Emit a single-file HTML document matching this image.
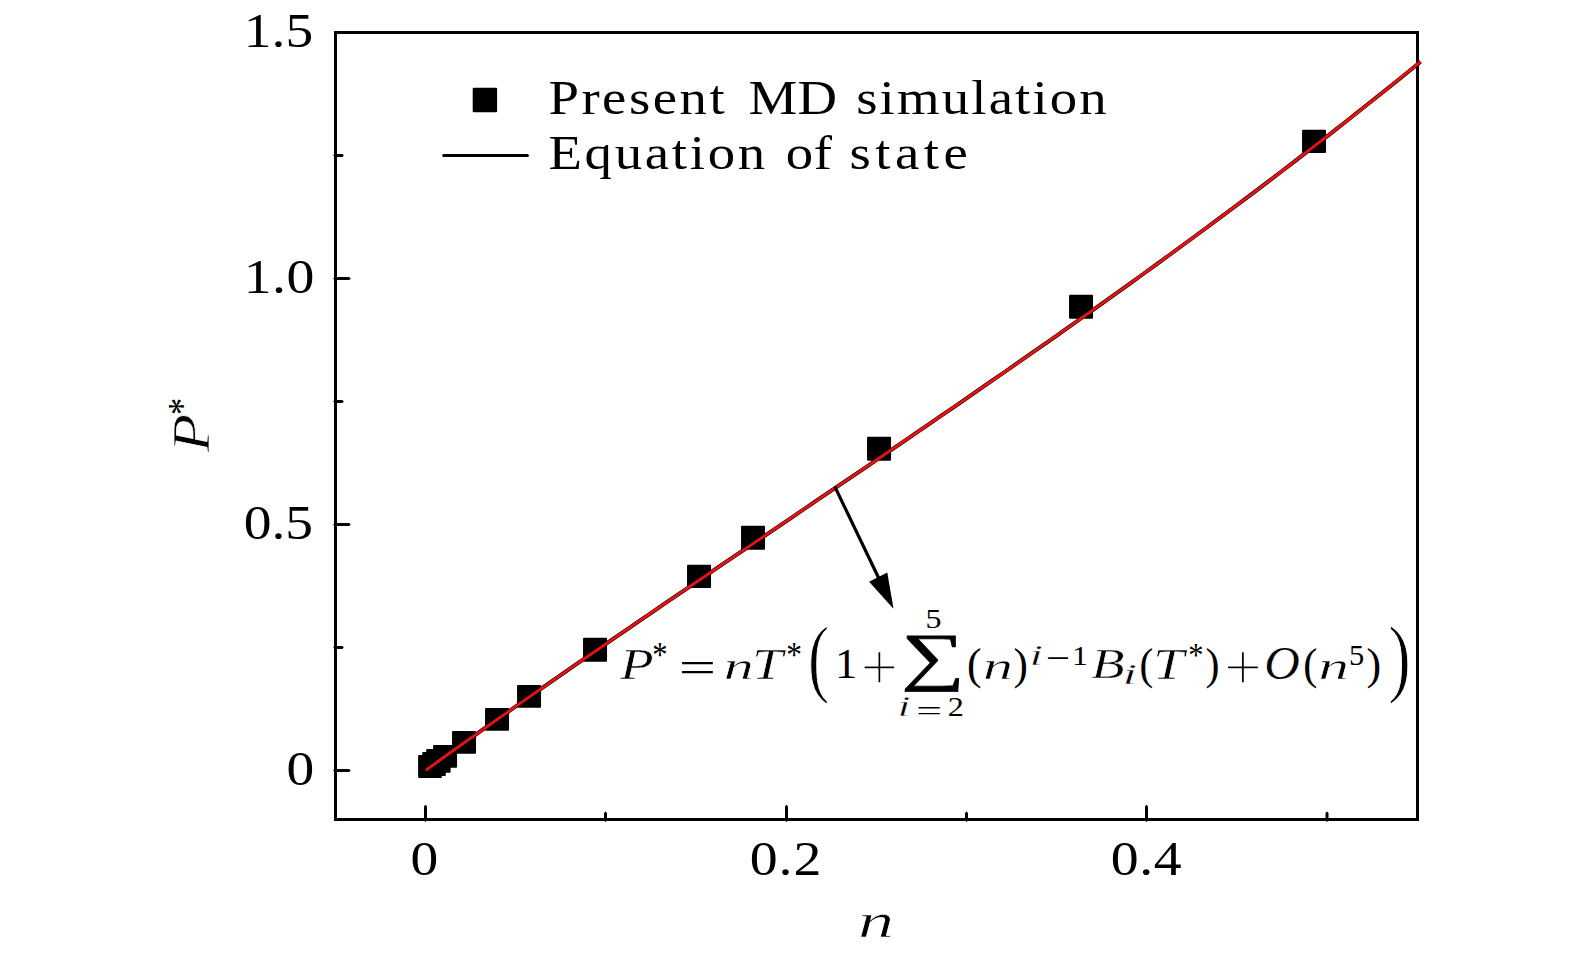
<!DOCTYPE html><html><head><meta charset="utf-8"><title>Equation of state</title>
<style>html,body{margin:0;padding:0;background:#fff}svg{display:block}text{font-family:"Liberation Serif",serif;fill:#000}</style></head><body>
<svg width="1575" height="955" viewBox="0 0 1575 955">
<rect width="1575" height="955" fill="#fff"/>
<g fill="#000">
<polygon points="424.0,806.2 425.5,804.7 427.0,806.2 427.0,820.5 425.5,822.0 424.0,820.5"/>
<polygon points="785.0,806.2 786.5,804.7 788.0,806.2 788.0,820.5 786.5,822.0 785.0,820.5"/>
<polygon points="1145.0,806.2 1146.5,804.7 1148.0,806.2 1148.0,820.5 1146.5,822.0 1145.0,820.5"/>
<polygon points="604.0,813.1 605.5,811.6 607.0,813.1 607.0,820.5 605.5,822.0 604.0,820.5"/>
<polygon points="965.0,813.1 966.5,811.6 968.0,813.1 968.0,820.5 966.5,822.0 965.0,820.5"/>
<polygon points="1325.5,813.1 1327.0,811.6 1328.5,813.1 1328.5,820.5 1327.0,822.0 1325.5,820.5"/>
<polygon points="333.1,770.50 334.6,769.00 349.2,769.00 350.7,770.50 349.2,772.00 334.6,772.00"/>
<polygon points="333.1,524.50 334.6,523.00 349.2,523.00 350.7,524.50 349.2,526.00 334.6,526.00"/>
<polygon points="333.1,278.50 334.6,277.00 349.2,277.00 350.7,278.50 349.2,280.00 334.6,280.00"/>
<polygon points="333.1,647.50 334.6,646.00 342.4,646.00 343.9,647.50 342.4,649.00 334.6,649.00"/>
<polygon points="333.1,401.50 334.6,400.00 342.4,400.00 343.9,401.50 342.4,403.00 334.6,403.00"/>
<polygon points="333.1,155.50 334.6,154.00 342.4,154.00 343.9,155.50 342.4,157.00 334.6,157.00"/>
</g>
<rect x="335.5" y="32.5" width="1082.0" height="787.0" fill="none" stroke="#000" stroke-width="3"/>
<text transform="matrix(1.1230 0 0 1 243.82 46.80)" font-size="49.4">1.5</text>
<text transform="matrix(1.1300 0 0 1 243.79 293.20)" font-size="49.4" letter-spacing="0.334">1.0</text>
<text transform="matrix(1.1253 0 0 1 243.68 539.00)" font-size="49.4">0.5</text>
<text transform="matrix(1.1224 0 0 1 286.59 785.20)" font-size="49.4">0</text>
<text transform="matrix(1.1224 0 0 1 410.59 875.20)" font-size="49.4">0</text>
<text transform="matrix(1.1300 0 0 1 749.67 875.20)" font-size="49.4" letter-spacing="0.898">0.2</text>
<text transform="matrix(1.1300 0 0 1 1110.77 875.20)" font-size="49.4" letter-spacing="0.452">0.4</text>
<text transform="matrix(0.7213 0 0 0.4839 857.98 937.15)" font-size="100" font-style="italic" stroke="#fff" stroke-width="0.9" vector-effect="non-scaling-stroke">n</text>
<g transform="translate(208.1 452.3) rotate(-90)">
<text transform="matrix(0.6262 0 0 0.5193 -0.06 0.40)" font-size="100" font-style="italic" stroke="#fff" stroke-width="0.8" vector-effect="non-scaling-stroke">P</text>
<text transform="matrix(0.3446 0 0 0.4009 37.32 -13.55)" font-size="100">*</text>
</g>
<rect x="472.7" y="87.8" width="24.4" height="24.4" rx="1.2"/>
<line x1="443.7" y1="155.6" x2="527.4" y2="155.6" stroke="#000" stroke-width="3" stroke-linecap="round"/>
<text transform="matrix(1.13 0 0 1 0 114.4)" font-size="48.5"><tspan x="485.33" letter-spacing="2.207">Present</tspan> <tspan x="662.32" letter-spacing="0.411">MD</tspan> <tspan x="757.66" letter-spacing="1.896">simulation</tspan></text>
<text transform="matrix(1.13 0 0 1 0 169.3)" font-size="48.5"><tspan x="485.33" letter-spacing="2.395">Equation</tspan> <tspan x="695.32" letter-spacing="0.561">of</tspan> <tspan x="751.82" letter-spacing="3.964">state</tspan></text>
<g fill="#000">
<rect x="1302.04" y="129.87" width="24" height="23.05" rx="1"/>
<rect x="1069.04" y="294.87" width="24" height="23.96" rx="1"/>
<rect x="867.04" y="436.87" width="24" height="23.96" rx="1"/>
<rect x="741.04" y="525.87" width="24" height="23.96" rx="1"/>
<rect x="687.04" y="564.87" width="24" height="23.05" rx="1"/>
<rect x="583.04" y="637.87" width="24" height="23.96" rx="1"/>
<rect x="517.04" y="685.00" width="24" height="22.8" rx="1"/>
<rect x="485.04" y="708.00" width="24" height="22.8" rx="1"/>
<rect x="452.04" y="731.00" width="24" height="22.85" rx="1"/>
<rect x="433.10" y="745.05" width="23.95" height="22.6" rx="1"/>
<rect x="426.20" y="749.00" width="24.4" height="23.7" rx="1"/>
<rect x="422.20" y="752.10" width="23.6" height="23.9" rx="1"/>
<rect x="418.10" y="755.10" width="23.8" height="22.8" rx="1"/>
</g>
<path d="M425.67 770.31 L438.26 761.27 L450.85 752.27 L463.45 743.30 L476.04 734.36 L488.64 725.46 L501.23 716.58 L513.83 707.74 L526.42 698.93 L539.01 690.14 L551.61 681.38 L564.20 672.64 L576.80 663.93 L589.39 655.24 L601.98 646.57 L614.58 637.91 L627.17 629.28 L639.77 620.66 L652.36 612.06 L664.95 603.47 L677.55 594.89 L690.14 586.32 L702.74 577.77 L715.33 569.22 L727.92 560.68 L740.52 552.14 L753.11 543.61 L765.71 535.08 L778.30 526.55 L790.90 518.02 L803.49 509.49 L816.08 500.96 L828.68 492.42 L841.27 483.88 L853.87 475.33 L866.46 466.77 L879.05 458.21 L891.65 449.63 L904.24 441.04 L916.84 432.44 L929.43 423.82 L942.02 415.19 L954.62 406.54 L967.21 397.87 L979.81 389.18 L992.40 380.47 L1004.99 371.73 L1017.59 362.97 L1030.18 354.19 L1042.78 345.37 L1055.37 336.53 L1067.97 327.66 L1080.56 318.76 L1093.15 309.83 L1105.75 300.86 L1118.34 291.86 L1130.94 282.82 L1143.53 273.74 L1156.12 264.62 L1168.72 255.47 L1181.31 246.27 L1193.91 237.03 L1206.50 227.74 L1219.09 218.40 L1231.69 209.02 L1244.28 199.59 L1256.88 190.12 L1269.47 180.58 L1282.06 171.00 L1294.66 161.36 L1307.25 151.67 L1319.85 141.92 L1332.44 132.11 L1345.04 122.24 L1357.63 112.31 L1370.22 102.32 L1382.82 92.27 L1395.41 82.15 L1408.01 71.96 L1420.60 61.71" fill="none" stroke="#000" stroke-width="3.9"/>
<path d="M425.67 770.31 L438.26 761.27 L450.85 752.27 L463.45 743.30 L476.04 734.36 L488.64 725.46 L501.23 716.58 L513.83 707.74 L526.42 698.93 L539.01 690.14 L551.61 681.38 L564.20 672.64 L576.80 663.93 L589.39 655.24 L601.98 646.57 L614.58 637.91 L627.17 629.28 L639.77 620.66 L652.36 612.06 L664.95 603.47 L677.55 594.89 L690.14 586.32 L702.74 577.77 L715.33 569.22 L727.92 560.68 L740.52 552.14 L753.11 543.61 L765.71 535.08 L778.30 526.55 L790.90 518.02 L803.49 509.49 L816.08 500.96 L828.68 492.42 L841.27 483.88 L853.87 475.33 L866.46 466.77 L879.05 458.21 L891.65 449.63 L904.24 441.04 L916.84 432.44 L929.43 423.82 L942.02 415.19 L954.62 406.54 L967.21 397.87 L979.81 389.18 L992.40 380.47 L1004.99 371.73 L1017.59 362.97 L1030.18 354.19 L1042.78 345.37 L1055.37 336.53 L1067.97 327.66 L1080.56 318.76 L1093.15 309.83 L1105.75 300.86 L1118.34 291.86 L1130.94 282.82 L1143.53 273.74 L1156.12 264.62 L1168.72 255.47 L1181.31 246.27 L1193.91 237.03 L1206.50 227.74 L1219.09 218.40 L1231.69 209.02 L1244.28 199.59 L1256.88 190.12 L1269.47 180.58 L1282.06 171.00 L1294.66 161.36 L1307.25 151.67 L1319.85 141.92 L1332.44 132.11 L1345.04 122.24 L1357.63 112.31 L1370.22 102.32 L1382.82 92.27 L1395.41 82.15 L1408.01 71.96 L1420.60 61.71" fill="none" stroke="#e61212" stroke-width="2.9"/>
<line x1="835.3" y1="487.6" x2="880" y2="580.8" stroke="#000" stroke-width="3.2" stroke-linecap="round"/>
<polygon points="893.5,608.7 869.1,581.7 887.3,572.6" fill="#000"/>
<g><text transform="matrix(0.5467 0 0 0.4337 620.19 678.60)" font-size="100" font-style="italic" stroke="#fff" stroke-width="0.6" vector-effect="non-scaling-stroke">P</text>
<text transform="matrix(0.3050 0 0 0.3627 652.31 667.25)" font-size="100">*</text>
<text transform="matrix(0.6619 0 0 0.4400 678.80 682.11)" font-size="100">=</text>
<text transform="matrix(0.6007 0 0 0.3884 723.76 678.60)" font-size="100" font-style="italic" stroke="#fff" stroke-width="0.6" vector-effect="non-scaling-stroke">n</text>
<text transform="matrix(0.5547 0 0 0.4337 752.07 678.60)" font-size="100" font-style="italic" stroke="#fff" stroke-width="0.6" vector-effect="non-scaling-stroke">T</text>
<text transform="matrix(0.3149 0 0 0.3627 786.26 667.25)" font-size="100">*</text>
<text transform="matrix(0.6346 0 0 0.8657 807.91 686.17)" font-size="100" stroke="#fff" stroke-width="1.0" vector-effect="non-scaling-stroke">(</text>
<text transform="matrix(0.4460 0 0 0.4128 834.88 678.30)" font-size="100">1</text>
<text transform="matrix(0.6683 0 0 0.6870 860.57 690.41)" font-size="100" stroke="#fff" stroke-width="1.6" vector-effect="non-scaling-stroke">+</text>
<text transform="matrix(0.8911 0 0 0.6442 901.25 677.73)" font-size="100" stroke="#000" stroke-width="0.9" stroke-linejoin="miter" vector-effect="non-scaling-stroke">∑</text>
<text transform="matrix(0.3202 0 0 0.2769 925.44 628.33)" font-size="100">5</text>
<text transform="matrix(0.4690 0 0 0.2990 897.59 716.40)" font-size="100" font-style="italic" stroke="#fff" stroke-width="0.6" vector-effect="non-scaling-stroke">i</text>
<text transform="matrix(0.4556 0 0 0.2800 916.13 720.30)" font-size="100">=</text>
<text transform="matrix(0.3218 0 0 0.2779 947.69 715.70)" font-size="100">2</text>
<text transform="matrix(0.4361 0 0 0.4522 966.98 678.67)" font-size="100">(</text>
<text transform="matrix(0.6007 0 0 0.3884 982.96 678.60)" font-size="100" font-style="italic" stroke="#fff" stroke-width="0.6" vector-effect="non-scaling-stroke">n</text>
<text transform="matrix(0.4322 0 0 0.4522 1013.51 678.67)" font-size="100">)</text>
<text transform="matrix(0.4846 0 0 0.2975 1029.60 665.40)" font-size="100" font-style="italic" stroke="#fff" stroke-width="0.6" vector-effect="non-scaling-stroke">i</text>
<text transform="matrix(0.4298 0 0 0.3614 1045.76 669.70)" font-size="100">−</text>
<text transform="matrix(0.3181 0 0 0.2833 1072.10 664.70)" font-size="100">1</text>
<text transform="matrix(0.5469 0 0 0.4318 1091.29 678.47)" font-size="100" font-style="italic" stroke="#fff" stroke-width="0.6" vector-effect="non-scaling-stroke">B</text>
<text transform="matrix(0.5263 0 0 0.2900 1122.47 684.40)" font-size="100" font-style="italic" stroke="#fff" stroke-width="0.6" vector-effect="non-scaling-stroke">i</text>
<text transform="matrix(0.4127 0 0 0.4522 1139.39 678.67)" font-size="100">(</text>
<text transform="matrix(0.5602 0 0 0.4337 1152.93 678.60)" font-size="100" font-style="italic" stroke="#fff" stroke-width="0.6" vector-effect="non-scaling-stroke">T</text>
<text transform="matrix(0.3050 0 0 0.3463 1188.21 666.18)" font-size="100">*</text>
<text transform="matrix(0.4205 0 0 0.4522 1205.44 678.67)" font-size="100">)</text>
<text transform="matrix(0.6791 0 0 0.6805 1223.82 690.45)" font-size="100" stroke="#fff" stroke-width="1.6" vector-effect="non-scaling-stroke">+</text>
<text transform="matrix(0.4920 0 0 0.4554 1264.33 679.06)" font-size="100" font-style="italic" stroke="#fff" stroke-width="0.2" vector-effect="non-scaling-stroke">O</text>
<text transform="matrix(0.4244 0 0 0.4522 1303.33 678.67)" font-size="100">(</text>
<text transform="matrix(0.6101 0 0 0.3884 1318.43 678.60)" font-size="100" font-style="italic" stroke="#fff" stroke-width="0.6" vector-effect="non-scaling-stroke">n</text>
<text transform="matrix(0.3053 0 0 0.2874 1349.03 665.12)" font-size="100">5</text>
<text transform="matrix(0.4400 0 0 0.4522 1366.48 678.67)" font-size="100">)</text>
<text transform="matrix(0.6775 0 0 0.8657 1388.32 686.17)" font-size="100" stroke="#fff" stroke-width="1.0" vector-effect="non-scaling-stroke">)</text></g>
</svg></body></html>
